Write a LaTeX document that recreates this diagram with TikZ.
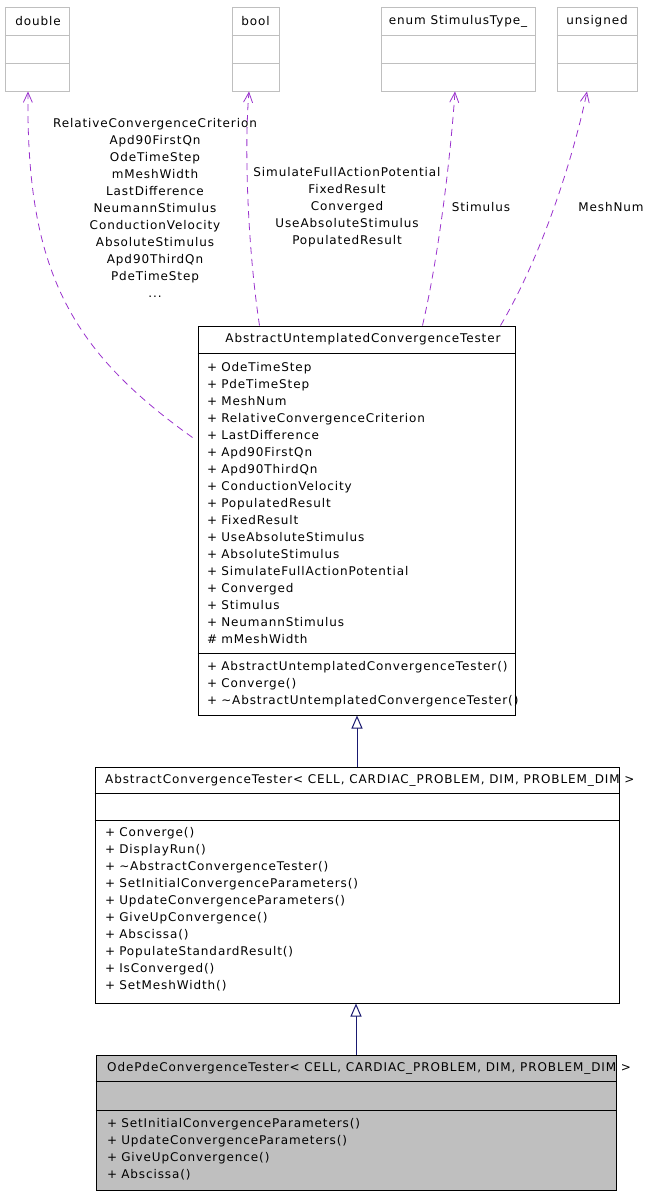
\documentclass[tikz,border=0pt]{standalone}
\usepackage{fontspec}
\setmainfont{DejaVu Sans}[LetterSpace=7.5]
\usetikzlibrary{arrows.meta}
\definecolor{DoxBorder}{HTML}{BFBFBF}
\definecolor{DoxLink}{HTML}{9A32CD}
\definecolor{DoxEdge}{HTML}{191970}
\definecolor{DoxFill}{HTML}{BFBFBF}

\begin{document}
\begin{tikzpicture}[x=1pt, y=-1pt,
    txt/.style={font=\fontsize{12}{17}\selectfont, inner sep=0pt},
    members/.style={txt, anchor=base west, text width=420pt, align=left},
    typebox/.style={draw=DoxBorder, line width=1pt, inner sep=0pt, minimum height=84pt},
    classbox/.style={draw=black, line width=1pt, inner sep=0pt},
    usage/.style={DoxLink, line width=0.8pt, dash pattern=on 7pt off 5pt,
        -{Straight Barb[length=10pt, width=9pt]}},
    derive/.style={DoxEdge, line width=1pt,
        -{Triangle[open, length=13pt, width=11pt, fill=white]}}]

    \useasboundingbox (0,0) rectangle (648,1195);

    % ========== TOP: MEMBER TYPES ==========
    \node[typebox, minimum width=64pt] (double) at (37,49) {};
    \node[typebox, minimum width=47pt] (bool) at (255.5,49) {};
    \node[typebox, minimum width=154pt] (stimtype) at (458,49) {};
    \node[typebox, minimum width=80pt] (unsigned) at (597,49) {};
    \foreach \t in {double, bool, stimtype, unsigned} {
        \draw[DoxBorder, line width=1pt] (\t.west |- 0,35) -- (\t.east |- 0,35);
        \draw[DoxBorder, line width=1pt] (\t.west |- 0,63) -- (\t.east |- 0,63);
    }
    \node[txt] (doublename) at (38,21) {double};
    \node[txt] (boolname) at (255.5,21) {bool};
    \node[txt] (stimtypename) at (458,21) {enum StimulusType\_};
    \node[txt] (unsignedname) at (597,21) {unsigned};

    % ========== MIDDLE: UNTEMPLATED BASE ==========
    \node[classbox, minimum width=317pt, minimum height=389pt] (untempl) at (356.5,520.5) {};
    \draw[line width=1pt] (untempl.west |- 0,353) -- (untempl.east |- 0,353);
    \draw[line width=1pt] (untempl.west |- 0,653) -- (untempl.east |- 0,653);
    \node[txt] (untempltitle) at (363,339.5) {AbstractUntemplatedConvergenceTester};
    \node[members] (untemplattr) at (207,371) {+ OdeTimeStep\\ + PdeTimeStep\\ + MeshNum\\
        + RelativeConvergenceCriterion\\ + LastDifference\\ + Apd90FirstQn\\ + Apd90ThirdQn\\
        + ConductionVelocity\\ + PopulatedResult\\ + FixedResult\\ + UseAbsoluteStimulus\\
        + AbsoluteStimulus\\ + SimulateFullActionPotential\\ + Converged\\ + Stimulus\\
        + NeumannStimulus\\ \# mMeshWidth};
    \node[members] (untemplops) at (207,670) {+ AbstractUntemplatedConvergenceTester()\\
        + Converge()\\ + \textasciitilde AbstractUntemplatedConvergenceTester()};

    % ========== TEMPLATED BASE ==========
    \node[classbox, minimum width=524pt, minimum height=236pt] (abstract) at (357,885) {};
    \draw[line width=1pt] (abstract.west |- 0,793) -- (abstract.east |- 0,793);
    \draw[line width=1pt] (abstract.west |- 0,820) -- (abstract.east |- 0,820);
    \node[txt, anchor=west] (abstracttitle) at (105,780)
        {AbstractConvergenceTester< CELL, CARDIAC\_PROBLEM, DIM, PROBLEM\_DIM >};
    \node[members] (abstractops) at (105,836) {+ Converge()\\ + DisplayRun()\\
        + \textasciitilde AbstractConvergenceTester()\\ + SetInitialConvergenceParameters()\\
        + UpdateConvergenceParameters()\\ + GiveUpConvergence()\\ + Abscissa()\\
        + PopulateStandardResult()\\ + IsConverged()\\ + SetMeshWidth()};

    % ========== BOTTOM: ODE/PDE TESTER ==========
    \node[classbox, fill=DoxFill, minimum width=520pt, minimum height=135pt] (odepde) at (356,1122.5) {};
    \draw[line width=1pt] (odepde.west |- 0,1081) -- (odepde.east |- 0,1081);
    \draw[line width=1pt] (odepde.west |- 0,1110) -- (odepde.east |- 0,1110);
    \node[txt, anchor=west] (odepdetitle) at (107,1068)
        {OdePdeConvergenceTester< CELL, CARDIAC\_PROBLEM, DIM, PROBLEM\_DIM >};
    \node[members] (odepdeops) at (107,1127) {+ SetInitialConvergenceParameters()\\
        + UpdateConvergenceParameters()\\ + GiveUpConvergence()\\ + Abscissa()};

    % Inheritance
    \draw[derive] (abstract.north) -- (abstract.north |- untempl.south);
    \draw[derive] (odepde.north) -- (odepde.north |- abstract.south);

    % Usage links
    \coordinate (doublefoot) at ([xshift=-9pt]double.south);
    \coordinate (boolfoot) at ([xshift=-6.5pt]bool.south);
    \coordinate (stimtypefoot) at ([xshift=-3pt]stimtype.south);
    \coordinate (unsignedfoot) at ([xshift=-10pt]unsigned.south);
    \draw[usage] ([xshift=-5pt, yshift=-112pt]untempl.north west)
        .. controls (70,350) and (26,270) .. (doublefoot);
    \draw[usage] ([xshift=62pt]untempl.north west)
        .. controls (248,250) and (244,150) .. (boolfoot);
    \draw[usage] ([xshift=225pt]untempl.north west)
        .. controls (440,250) and (451,150) .. (stimtypefoot);
    \draw[usage] ([xshift=303pt]untempl.north west)
        .. controls (545,250) and (575,150) .. (unsignedfoot);

    \node[txt, align=center] (doublelabel) at (155,208) {RelativeConvergenceCriterion\\
        Apd90FirstQn\\ OdeTimeStep\\ mMeshWidth\\ LastDifference\\ NeumannStimulus\\
        ConductionVelocity\\ AbsoluteStimulus\\ Apd90ThirdQn\\ PdeTimeStep\\ ...};
    \node[txt, align=center] (boollabel) at (347,207.5) {SimulateFullActionPotential\\
        FixedResult\\ Converged\\ UseAbsoluteStimulus\\ PopulatedResult};
    \node[txt] (stimtypelabel) at (481,207.5) {Stimulus};
    \node[txt] (unsignedlabel) at (611,207.5) {MeshNum};

\end{tikzpicture}
\end{document}
